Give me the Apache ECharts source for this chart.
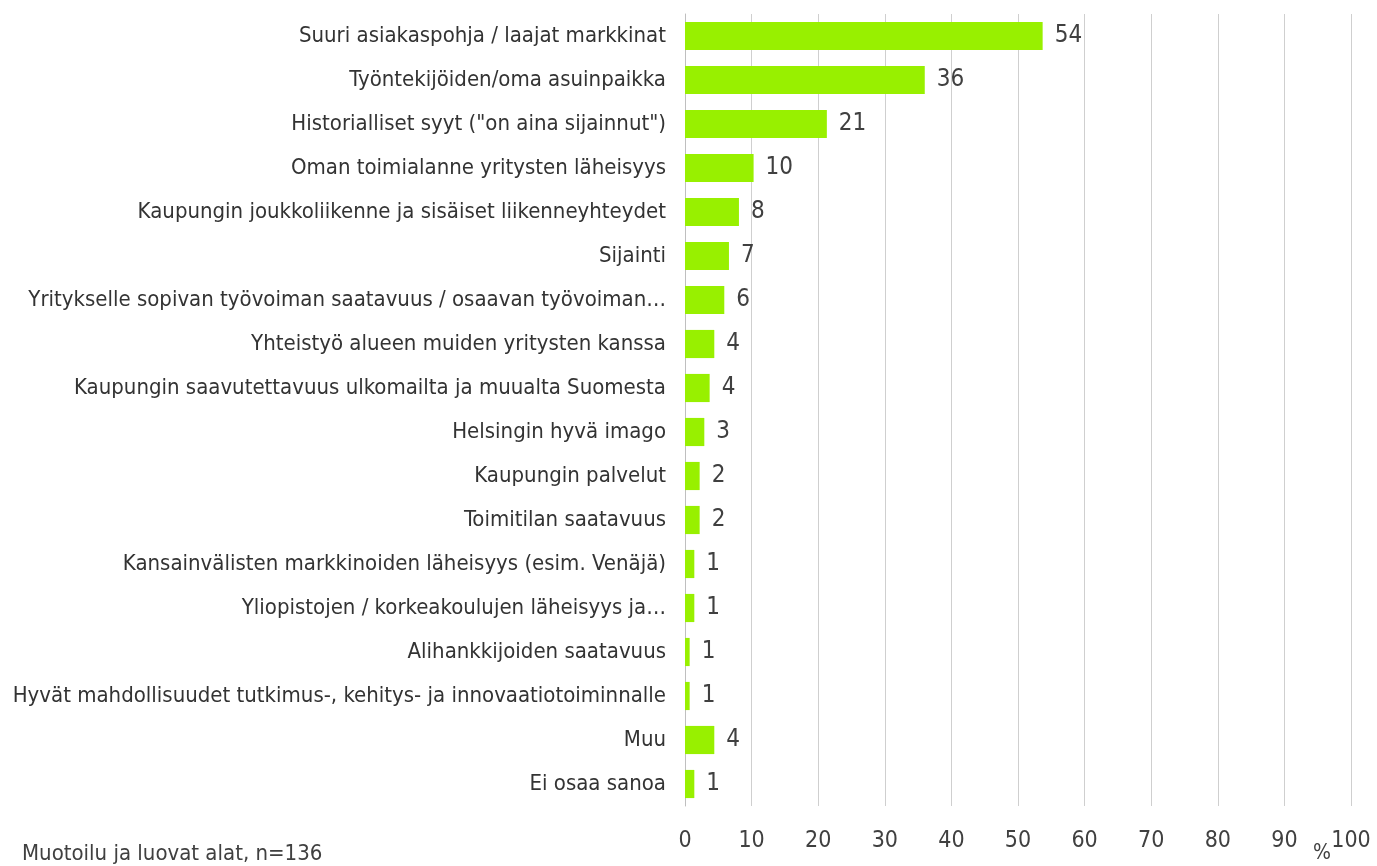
<!DOCTYPE html>
<html><head><meta charset="utf-8">
<script src="https://cdn.jsdelivr.net/npm/echarts@6/dist/echarts.min.js"></script>
<style>html,body{margin:0;padding:0;background:#fff}#c{width:1377px;height:866px}</style>
</head><body><div id="c"></div>
<script>
const categories = [
  'Suuri asiakaspohja / laajat markkinat',
  'Työntekijöiden/oma asuinpaikka',
  'Historialliset syyt ("on aina sijainnut")',
  'Oman toimialanne yritysten läheisyys',
  'Kaupungin joukkoliikenne ja sisäiset liikenneyhteydet',
  'Sijainti',
  'Yritykselle sopivan työvoiman saatavuus / osaavan työvoiman…',
  'Yhteistyö alueen muiden yritysten kanssa',
  'Kaupungin saavutettavuus ulkomailta ja muualta Suomesta',
  'Helsingin hyvä imago',
  'Kaupungin palvelut',
  'Toimitilan saatavuus',
  'Kansainvälisten markkinoiden läheisyys (esim. Venäjä)',
  'Yliopistojen / korkeakoulujen läheisyys ja…',
  'Alihankkijoiden saatavuus',
  'Hyvät mahdollisuudet tutkimus-, kehitys- ja innovaatiotoiminnalle',
  'Muu',
  'Ei osaa sanoa'
];
const values = [53.7, 36.0, 21.3, 10.3, 8.1, 6.6, 5.9, 4.4, 3.7, 2.9, 2.2, 2.2, 1.4, 1.4, 0.7, 0.7, 4.4, 1.4];
const xTicks = [0,10,20,30,40,50,60,70,80,90,100];
const note = 'Muotoilu ja luovat alat, n=136';
const unit = '%';

const FONT = '"Liberation Sans Narrow","DejaVu Sans Condensed","Liberation Sans",sans-serif';
const chart = echarts.init(document.getElementById('c'), null, {renderer:'canvas'});
chart.setOption({
  animation:false,
  grid:{left:685, right:26, top:14, bottom:60, containLabel:false},
  xAxis:{type:'value', min:0, max:100, interval:10,
    axisLine:{show:false}, axisTick:{show:false},
    splitLine:{show:true, lineStyle:{color:'#cfcfcf', width:1}},
    axisLabel:{color:'#404040', fontFamily:FONT, fontSize:23, margin:24,
      formatter:v=>xTicks.includes(v)?String(v):''}},
  yAxis:{type:'category', data:categories, inverse:true,
    axisLine:{show:true, lineStyle:{color:'#bfbfbf'}}, axisTick:{show:false},
    axisLabel:{color:'#333333', fontFamily:FONT, fontSize:22, margin:19}},
  series:[{type:'bar', data:values, barWidth:'64%',
    itemStyle:{color:'#98f000'},
    label:{show:true, position:'right', distance:12, color:'#404040', fontFamily:FONT, fontSize:24,
      formatter:p=>String(Math.round(p.value))}}],
  graphic:[
    {type:'text', left:22, top:843, style:{text:note, fill:'#404040', font:'22px '+FONT}},
    {type:'text', left:1313, top:843, style:{text:unit, fill:'#404040', font:'21px '+FONT}}
  ]
});
</script></body></html>
